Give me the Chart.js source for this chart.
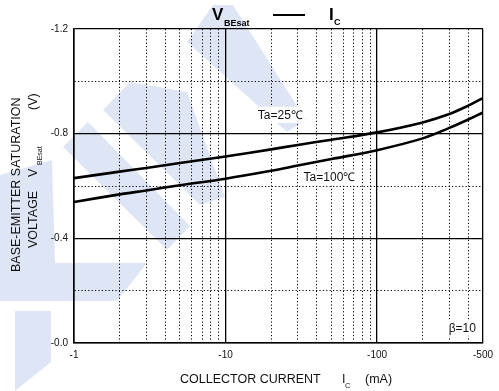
<!DOCTYPE html>
<html>
<head>
<meta charset="utf-8">
<script src="https://cdn.jsdelivr.net/npm/chart.js@4.4.1/dist/chart.umd.min.js"></script>
<style>
  html, body { margin: 0; padding: 0; background: #fff; }
  #wrap { width: 499px; height: 391px; position: relative; }
</style>
</head>
<body>
<div id="wrap"><canvas id="c" width="499" height="391"></canvas></div>
<script>
// Collector current magnitude (mA); axis labels carry the minus sign
const currentMA = [1, 2, 3, 5, 10, 20, 30, 50, 100, 200, 300, 400, 500];
// Base-emitter saturation voltage (V), beta = 10
const vbeTa25  = [-0.630, -0.655, -0.669, -0.688, -0.713, -0.740, -0.757, -0.777, -0.805, -0.843, -0.875, -0.907, -0.936];
const vbeTa100 = [-0.539, -0.568, -0.583, -0.603, -0.628, -0.658, -0.678, -0.703, -0.737, -0.782, -0.822, -0.854, -0.881];

// Axis ticks
const xGridValues = [1, 2, 3, 4, 5, 6, 7, 8, 9, 10, 20, 30, 40, 50, 60, 70, 80, 90, 100, 200, 300, 400, 500];
const xMajorValues = [1, 10, 100, 500];
const xLabelValues = [1, 10, 100, 500];
const yGridValues = [-1.2, -1.0, -0.8, -0.6, -0.4, -0.2, 0];
const yLabelValues = [-1.2, -0.8, -0.4, 0];

// In-plot notes
const noteTexts = ['Ta=25\u2103', 'Ta=100\u2103', '\u03b2=10'];
const noteX = [23, 48.5, 365];
const noteY = [-0.872, -0.632, -0.058];

const FONT = '"Liberation Sans", Arial, Helvetica, sans-serif';
const DOT = [1.2, 2.2];

function isIn(list, v) { return list.some(a => Math.abs(a - v) < 1e-6); }

// Pale logo drawn behind the plot
const watermark = {
  id: 'watermark',
  beforeDraw(chart) {
    const ctx = chart.ctx;
    const shapes = [
      [[187,42],[213,5],[233,5],[306,120],[287,132]],
      [[103,110],[130,82],[187,92],[225,197],[200,205]],
      [[63,147],[88,122],[190,226],[167,250]],
      [[0,175],[52,160],[55,263],[0,263]],
      [[0,263],[147,263],[117,301],[0,301]],
      [[15,311],[51,311],[51,362],[15,391]]
    ];
    ctx.save();
    ctx.fillStyle = 'rgb(222,230,246)';
    shapes.forEach(s => {
      ctx.beginPath();
      s.forEach((p, i) => i ? ctx.lineTo(p[0], p[1]) : ctx.moveTo(p[0], p[1]));
      ctx.closePath();
      ctx.fill();
    });
    ctx.restore();
  }
};

// Notes with white boxes
const notes = {
  id: 'notes',
  afterDatasetsDraw(chart) {
    const ctx = chart.ctx, xs = chart.scales.x, ys = chart.scales.y;
    ctx.save();
    ctx.font = '12px ' + FONT;
    ctx.textAlign = 'center';
    ctx.textBaseline = 'middle';
    noteTexts.forEach((t, i) => {
      const px = xs.getPixelForValue(noteX[i]);
      const py = ys.getPixelForValue(noteY[i]);
      const w = ctx.measureText(t).width;
      ctx.fillStyle = '#fff';
      ctx.fillRect(px - w / 2 - 2, py - 8, w + 4, 16);
      ctx.fillStyle = '#111';
      ctx.fillText(t, px, py + 0.5);
    });
    ctx.restore();
  }
};

// Heading and axis titles with subscripts
const titles = {
  id: 'titles',
  afterDraw(chart) {
    const ctx = chart.ctx;
    ctx.save();
    ctx.fillStyle = '#000';
    ctx.textBaseline = 'alphabetic';
    ctx.textAlign = 'left';

    // Heading: V_BEsat —— I_C
    ctx.font = 'bold 17px ' + FONT;
    ctx.fillText('V', 212, 20);
    ctx.font = 'bold 9px ' + FONT;
    ctx.fillText('BEsat', 224, 26);
    ctx.strokeStyle = '#000';
    ctx.lineWidth = 2;
    ctx.beginPath(); ctx.moveTo(273, 15); ctx.lineTo(305, 15); ctx.stroke();
    ctx.font = 'bold 17px ' + FONT;
    ctx.fillText('I', 329, 20);
    ctx.font = 'bold 9px ' + FONT;
    ctx.fillText('C', 334, 25);

    // X title
    ctx.fillStyle = '#111';
    ctx.font = '12.5px ' + FONT;
    ctx.fillText('COLLECTOR CURRENT', 180, 383);
    ctx.fillText('I', 342, 383);
    ctx.font = '7.5px ' + FONT;
    ctx.fillText('C', 345, 388);
    ctx.font = '12.5px ' + FONT;
    ctx.fillText('(mA)', 365, 383);

    // Y title, two rotated lines
    ctx.save();
    ctx.translate(20, 272);
    ctx.rotate(-Math.PI / 2);
    ctx.font = '12.5px ' + FONT;
    ctx.fillText('BASE-EMITTER SATURATION', 0, 0);
    ctx.restore();

    ctx.save();
    ctx.translate(37, 248);
    ctx.rotate(-Math.PI / 2);
    ctx.font = '12.5px ' + FONT;
    ctx.fillText('VOLTAGE', 0, 0);
    ctx.fillText('V', 71, 0);
    ctx.font = '7px ' + FONT;
    ctx.fillText('BEsat', 83, 4.5);
    ctx.font = '12.5px ' + FONT;
    ctx.fillText('(V)', 138, 0);
    ctx.restore();

    ctx.restore();
  }
};

const toPoints = (xs, ys) => xs.map((x, i) => ({ x: x, y: ys[i] }));

const lineStyle = {
  borderColor: '#000',
  borderWidth: 2.6,
  pointRadius: 0,
  fill: false,
  tension: 0.35
};

new Chart(document.getElementById('c'), {
  type: 'line',
  data: {
    datasets: [
      Object.assign({ label: 'Ta=25\u2103', data: toPoints(currentMA, vbeTa25) }, lineStyle),
      Object.assign({ label: 'Ta=100\u2103', data: toPoints(currentMA, vbeTa100) }, lineStyle)
    ]
  },
  options: {
    responsive: false,
    animation: false,
    devicePixelRatio: 1,
    layout: { padding: { top: 29, right: 12, left: 0, bottom: 0 } },
    plugins: { legend: { display: false }, tooltip: { enabled: false }, title: { display: false } },
    scales: {
      x: {
        type: 'logarithmic',
        min: 1,
        max: 500,
        afterBuildTicks: s => { s.ticks = xGridValues.map(v => ({ value: v })); },
        afterFit: s => { s.height = 48; },
        ticks: {
          autoSkip: false,
          maxRotation: 0,
          padding: 6,
          color: '#111',
          font: { family: FONT, size: 10 },
          callback: (v, i, ticks) => {
            const val = ticks[i].value;
            return isIn(xLabelValues, val) ? '-' + val : '';
          }
        },
        grid: {
          drawTicks: false,
          color: '#000',
          lineWidth: c => (c.tick && isIn(xMajorValues, c.tick.value)) ? 1.3 : 1
        },
        border: {
          display: true,
          color: '#000',
          width: 1.6,
          dash: c => (c.tick && !isIn(xMajorValues, c.tick.value)) ? DOT : []
        }
      },
      y: {
        type: 'linear',
        min: -1.2,
        max: 0,
        reverse: true,
        afterBuildTicks: s => { s.ticks = yGridValues.map(v => ({ value: v })); },
        afterFit: s => { s.width = 74; },
        ticks: {
          padding: 6,
          color: '#111',
          font: { family: FONT, size: 10 },
          callback: (v, i, ticks) => {
            const val = ticks[i].value;
            if (!isIn(yLabelValues, val)) return '';
            return val === 0 ? '-0.0' : val.toFixed(1);
          }
        },
        grid: {
          drawTicks: false,
          color: '#000',
          lineWidth: c => (c.tick && isIn(yLabelValues, c.tick.value)) ? 1.3 : 1
        },
        border: {
          display: true,
          color: '#000',
          width: 1.6,
          dash: c => (c.tick && !isIn(yLabelValues, c.tick.value)) ? DOT : []
        }
      }
    }
  },
  plugins: [watermark, notes, titles]
});
</script>
</body>
</html>
